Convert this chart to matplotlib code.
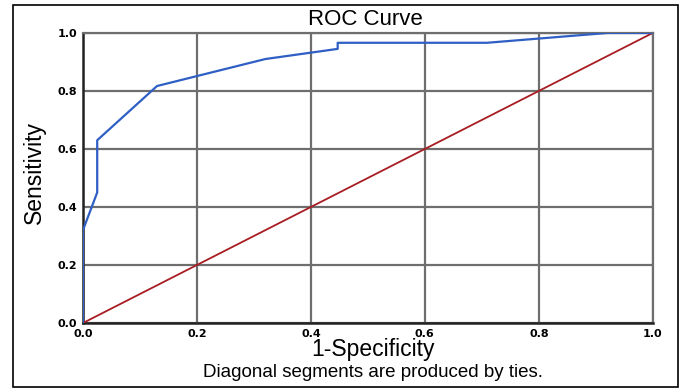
import matplotlib.pyplot as plt
from matplotlib.patches import Rectangle

# ROC points
fpr = [0.0, 0.0, 0.025, 0.025, 0.13, 0.32, 0.447, 0.447, 0.709, 0.921, 1.0]
tpr = [0.0, 0.32, 0.45, 0.63, 0.817, 0.91, 0.945, 0.966, 0.966, 1.0, 1.0]
ref = [0.0, 1.0]
ticks = [0.0, 0.2, 0.4, 0.6, 0.8, 1.0]
tick_labels = ["0.0", "0.2", "0.4", "0.6", "0.8", "1.0"]

plt.rcParams['font.family'] = ['Liberation Sans', 'DejaVu Sans']

fig = plt.figure(figsize=(6.8, 3.92), dpi=100)
ax = fig.add_axes([0.122, 0.176, 0.838, 0.740])

ax.plot(ref, ref, color="#a81c22", lw=1.3, zorder=3)
ax.plot(fpr, tpr, color="#2f5fc4", lw=1.6, zorder=4)

ax.set_xlim(0, 1)
ax.set_ylim(0, 1)
ax.set_xticks(ticks)
ax.set_yticks(ticks)
ax.set_xticklabels(tick_labels, fontsize=8, fontweight="bold", family="DejaVu Sans")
ax.set_yticklabels(tick_labels, fontsize=8, fontweight="bold", family="DejaVu Sans")
ax.tick_params(length=0, pad=4)
ax.grid(True, color="#6e6e6e", lw=1.6)
ax.set_axisbelow(True)
for s in ["top", "right"]:
    ax.spines[s].set_color("#6e6e6e")
    ax.spines[s].set_linewidth(1.6)
for s in ["left", "bottom"]:
    ax.spines[s].set_color("#222222")
    ax.spines[s].set_linewidth(1.8)

fig.text(0.538, 0.949, "ROC Curve", ha="center", va="center", fontsize=16)
fig.text(0.549, 0.108, "1-Specificity", ha="center", va="center", fontsize=16.5)
fig.text(0.050, 0.561, "Sensitivity", ha="center", va="center", fontsize=16.5, rotation=90)
fig.text(0.549, 0.049, "Diagonal segments are produced by ties.", ha="center", va="center", fontsize=13.5)

fig.patches.append(Rectangle((13 / 680, 5 / 392), 665 / 680, 382 / 392, transform=fig.transFigure,
                             fill=False, edgecolor="black", lw=1.2))

fig.savefig("out.png", dpi=100)
